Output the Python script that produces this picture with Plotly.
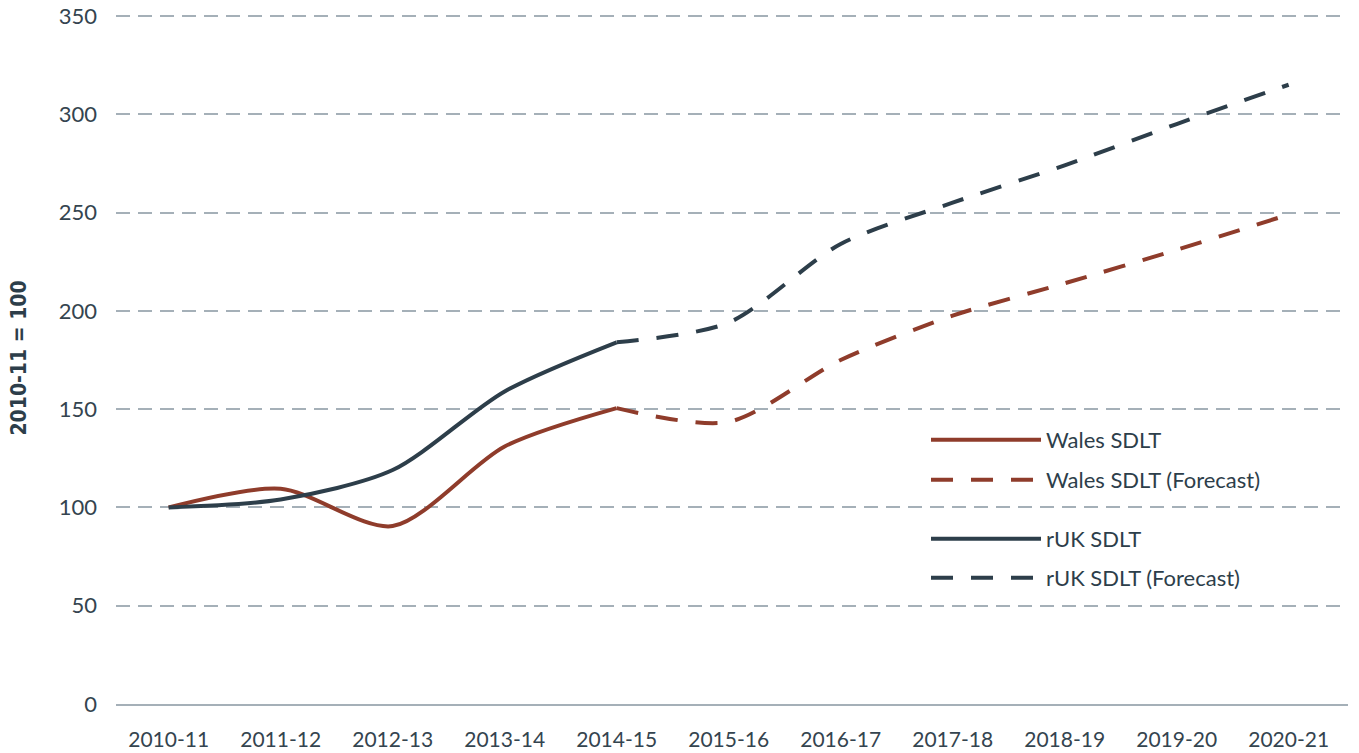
import plotly.graph_objects as go

years = ["2010-11", "2011-12", "2012-13", "2013-14", "2014-15", "2015-16",
         "2016-17", "2017-18", "2018-19", "2019-20", "2020-21"]

wales_actual = [100, 109.5, 90.5, 131, 150.5]
ruk_actual = [100, 104, 119, 159, 184]

wales_forecast = [150.5, 143.5, 175, 197.5, 214, 231, 249]
ruk_forecast = [184, 194, 234, 255, 274, 295, 315]

RED = "#8f3c2b"
DARK = "#2d3e4a"
GRID = "#a5b0b8"
TEXT = "#34444f"

fig = go.Figure()

traces = [
    ("Wales SDLT", years[:5], wales_actual, RED, "solid", "legend"),
    ("Wales SDLT (Forecast)", years[4:], wales_forecast, RED, "22px,18px", "legend2"),
    ("rUK SDLT", years[:5], ruk_actual, DARK, "solid", "legend3"),
    ("rUK SDLT (Forecast)", years[4:], ruk_forecast, DARK, "22px,18px", "legend4"),
]
for name, xs, ys, col, dash, lg in traces:
    fig.add_trace(go.Scatter(
        x=xs, y=ys, name=name, mode="lines",
        line=dict(color=col, width=4, dash=dash, shape="spline", smoothing=0.8),
        legend=lg,
    ))

legend_common = dict(
    xref="container", yref="container", xanchor="left", yanchor="middle",
    bgcolor="rgba(0,0,0,0)", borderwidth=0, itemwidth=110,
    font=dict(family="Lato", size=22, color=DARK),
)
ys_leg = [440, 480, 539, 578]
LX = 926 / 1359
fig.update_layout(
    legend=dict(x=LX, y=1 - ys_leg[0] / 753, **legend_common),
    legend2=dict(x=LX, y=1 - ys_leg[1] / 753, **legend_common),
    legend3=dict(x=LX, y=1 - ys_leg[2] / 753, **legend_common),
    legend4=dict(x=LX, y=1 - ys_leg[3] / 753, **legend_common),
)

fig.update_layout(
    width=1359, height=753,
    margin=dict(l=116, r=11, t=12, b=49, autoexpand=False),
    plot_bgcolor="white", paper_bgcolor="white",
    showlegend=True,
    xaxis=dict(
        type="category", categoryorder="array", categoryarray=years,
        range=[-0.47, 10.53],
        showgrid=False, zeroline=False,
        showline=True, linecolor=GRID, linewidth=2,
        ticks="", ticklabelstandoff=16, tickangle=0,
        tickfont=dict(family="Lato", size=21, color=TEXT),
    ),
    yaxis=dict(
        range=[0, 352], tickvals=[0, 50, 100, 150, 200, 250, 300, 350],
        showgrid=True, gridcolor=GRID, gridwidth=2, griddash="14px,8px",
        zeroline=False, showline=False,
        ticks="", ticklabelstandoff=18, ticklabeloverflow="allow",
        tickfont=dict(family="Lato", size=22, color=TEXT),
        title=dict(text="<b>2010-11 = 100</b>", standoff=26,
                   font=dict(family="DejaVu Sans Condensed", size=21, color=DARK)),
    ),
)

fig.write_html("out.html",
               config={"displayModeBar": False},
               post_script="document.body.style.margin='0';document.body.style.overflow='hidden';")
